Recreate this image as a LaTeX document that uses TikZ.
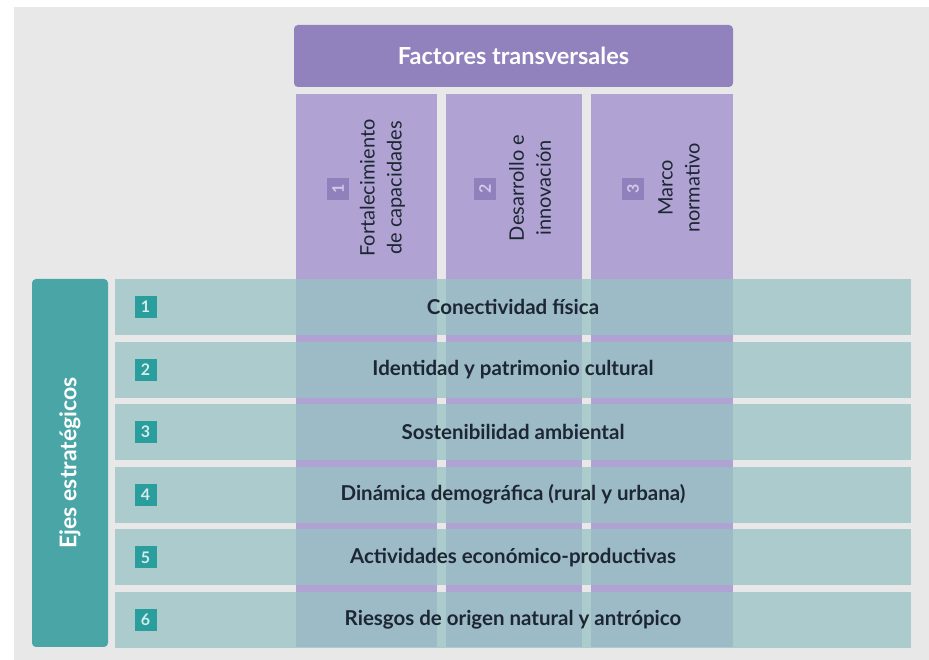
\documentclass[tikz,border=0pt]{standalone}
\usepackage{fontspec}
\setmainfont{Lato}
\usetikzlibrary{positioning}

\definecolor{bggray}{RGB}{232,232,233}
\definecolor{hdrpurple}{RGB}{145,129,188}
\definecolor{colpurple}{RGB}{176,163,211}
\definecolor{numpurple}{RGB}{144,128,188}
\definecolor{numlilac}{RGB}{210,200,232}
\definecolor{rowteal}{RGB}{152,194,196}
\definecolor{barteal}{RGB}{74,166,166}
\definecolor{numteal}{RGB}{42,157,157}
\definecolor{numpale}{RGB}{213,236,236}
\definecolor{inkdark}{RGB}{28,39,51}

\tikzset{
  header/.style={fill=hdrpurple, rounded corners=4pt, minimum width=439pt,
    minimum height=62pt, inner sep=0pt, text=white,
    font=\bfseries\fontsize{23.5}{26}\selectfont},
  factor/.style={fill=colpurple, minimum height=553pt, inner sep=0pt},
  factortext/.style={rotate=90, align=center, text=inkdark,
    font=\fontsize{20}{27}\selectfont},
  colnum/.style={fill=numpurple, minimum size=22pt, inner sep=0pt, rotate=90,
    text=numlilac, font=\bfseries\fontsize{16}{16}\selectfont},
  axisbar/.style={fill=barteal, rounded corners=4pt, minimum width=76pt,
    minimum height=368pt, inner sep=0pt},
  axisrow/.style={fill=rowteal, fill opacity=.76, minimum width=796pt,
    minimum height=56pt, inner sep=0pt},
  rowlabel/.style={text=inkdark, font=\bfseries\fontsize{20.5}{24}\selectfont},
  rownum/.style={fill=numteal, minimum size=22pt, inner sep=0pt,
    text=numpale, font=\bfseries\fontsize{16}{16}\selectfont}
}

\begin{document}
\begin{tikzpicture}[x=1pt, y=1pt]
\useasboundingbox (0,0) rectangle (929,660);
\fill[bggray] (14,0) rectangle (929,653);

% factores transversales
\node[header] (factores) at (513.5,604) {Factores transversales};

\node[factor, minimum width=141pt] (col1) at (366.5,289.5) {};
\node[factor, minimum width=136pt] (col2) at (514,289.5) {};
\node[factor, minimum width=142pt] (col3) at (662,289.5) {};

\node[colnum] (cnum1) at (338,471) {1};
\node[factortext] (ctext1) at (382.5,472) {Fortalecimiento\\de capacidades};
\node[colnum] (cnum2) at (485,471) {2};
\node[factortext] (ctext2) at (530,472) {Desarrollo e\\innovación};
\node[colnum] (cnum3) at (633,471) {3};
\node[factortext] (ctext3) at (679,472) {Marco\\normativo};

% ejes estrategicos
\node[axisbar] (ejes) at (70,197) {};
\node[rotate=90, text=white, font=\bfseries\fontsize{23}{26}\selectfont]
  (ejestext) at (ejes.center) {Ejes estratégicos};

\foreach \i/\txt in {1/Conectividad física,
                     2/Identidad y patrimonio cultural,
                     3/Sostenibilidad ambiental,
                     4/Dinámica demográfica (rural y urbana),
                     5/Actividades económico-productivas,
                     6/Riesgos de origen natural y antrópico}{
  \node[axisrow] (row\i) at (513,{353-(\i-1)*62.6}) {};
  \node[rowlabel] (lab\i) at (row\i.center) {\txt};
  \node[rownum] (rnum\i) at (145.5,{353-(\i-1)*62.6}) {\i};
}

\end{tikzpicture}
\end{document}
